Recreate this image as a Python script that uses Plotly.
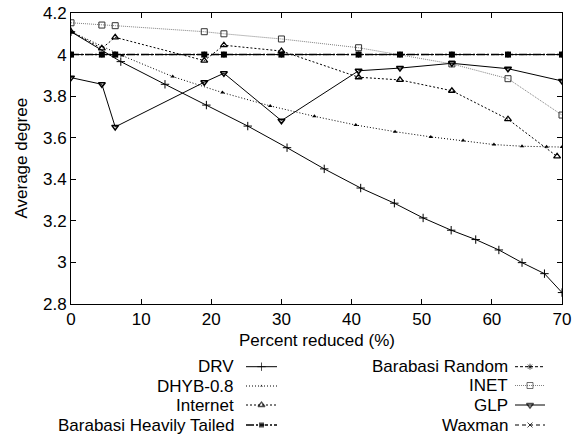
import plotly.graph_objects as go

W, H = 584, 437
FONT = "Liberation Sans, Arial, Helvetica, sans-serif"
FS = 17

# ---------------- data ----------------
drv_x = [0, 7.1, 13.4, 19.3, 25.2, 30.8, 36.1, 41.3, 46.1, 50.2, 54.2, 57.7, 61.0, 64.3, 67.5, 70]
drv_y = [4.11, 3.966, 3.857, 3.757, 3.656, 3.552, 3.45, 3.358, 3.285, 3.214, 3.155, 3.11, 3.06, 2.999, 2.946, 2.855]

dhyb_x = [0, 7.3, 14.5, 21.6, 28.4, 34.7, 40.6, 46.2, 51.3, 55.9, 60.3, 64.3, 67.8, 70]
dhyb_y = [4.11, 3.995, 3.894, 3.817, 3.753, 3.703, 3.661, 3.629, 3.604, 3.586, 3.567, 3.559, 3.557, 3.555]

internet_x = [0, 4.4, 6.3, 19.0, 21.8, 30.0, 41.0, 46.9, 54.3, 62.3, 69.3]
internet_y = [4.11, 4.03, 4.083, 3.971, 4.045, 4.017, 3.891, 3.878, 3.826, 3.689, 3.51]

common_x = [0, 4.4, 6.3, 19.0, 21.8, 30.0, 41.0, 46.9, 54.3, 62.3, 70]
bht_y = [4.0, 4.0, 4.0, 4.0, 4.0, 4.0, 4.0, 4.0, 4.0, 4.0, 4.0]
brand_y = [4.0, 4.0, 4.0, 4.0, 4.0, 4.0, 4.0, 4.0, 4.0, 4.0, 4.0]
waxman_y = [4.0, 4.0, 4.0, 4.0, 4.0, 4.0, 4.0, 4.0, 4.0, 4.0, 4.0]

inet_x = [0, 4.4, 6.3, 19.0, 21.8, 30.0, 41.0, 54.3, 62.3, 70]
inet_y = [4.153, 4.142, 4.139, 4.110, 4.10, 4.075, 4.033, 3.955, 3.884, 3.709]

glp_y = [3.889, 3.857, 3.652, 3.867, 3.910, 3.682, 3.922, 3.935, 3.958, 3.932, 3.873]

x_ticks = [0, 10, 20, 30, 40, 50, 60, 70]
y_ticks = [2.8, 3.0, 3.2, 3.4, 3.6, 3.8, 4.0, 4.2]
y_ticktext = ["2.8", "3", "3.2", "3.4", "3.6", "3.8", "4", "4.2"]

# ---------------- styles ----------------
styles = {
    "DRV": dict(line=dict(color="black", width=1, dash="solid"),
                marker=dict(symbol="cross-thin-open", size=6, line=dict(color="black", width=1))),
    "Barabasi Random": dict(line=dict(color="black", width=1, dash="3px,2px"),
                            marker=dict(symbol="asterisk-open", size=5, line=dict(color="black", width=1))),
    "DHYB-0.8": dict(line=dict(color="black", width=1, dash="1px,2px"),
                     marker=dict(symbol="triangle-up", size=4, color="black")),
    "INET": dict(line=dict(color="#808080", width=1, dash="1px,1px"),
                 marker=dict(symbol="square-open", size=6, color="#333333", line=dict(color="#333333", width=1))),
    "Internet": dict(line=dict(color="black", width=1, dash="2px,2px"),
                     marker=dict(symbol="triangle-up-open", size=6, color="black", line=dict(color="black", width=1.3))),
    "GLP": dict(line=dict(color="black", width=1, dash="solid"),
                marker=dict(symbol="triangle-down-open", size=6, color="black", line=dict(color="black", width=1.5))),
    "Barabasi Heavily Tailed": dict(line=dict(color="black", width=1.5, dash="8px,2px,2px,2px"),
                                    marker=dict(symbol="square", size=6, color="black")),
    "Waxman": dict(line=dict(color="black", width=1, dash="4px,3px"),
                   marker=dict(symbol="x-thin-open", size=5, line=dict(color="black", width=1))),
}

series = [
    ("Barabasi Random", common_x, brand_y),
    ("Waxman", common_x, waxman_y),
    ("DRV", drv_x, drv_y),
    ("DHYB-0.8", dhyb_x, dhyb_y),
    ("INET", inet_x, inet_y),
    ("Internet", internet_x, internet_y),
    ("GLP", common_x, glp_y),
    ("Barabasi Heavily Tailed", common_x, bht_y),
]

fig = go.Figure()
for name, xs, ys in series:
    st = styles[name]
    fig.add_trace(go.Scatter(x=xs, y=ys, mode="lines+markers", name=name,
                             line=st["line"], marker=st["marker"], showlegend=False,
                             xaxis="x", yaxis="y"))

# ---------------- custom legend (text left of sample) ----------------
left_col = ["DRV", "DHYB-0.8", "Internet", "Barabasi Heavily Tailed"]
right_col = ["Barabasi Random", "INET", "GLP", "Waxman"]
rows_left = [366.7, 386, 405, 425]
rows_right = [366.7, 385.5, 405, 425]
cols = [(left_col, rows_left, 236, 246, 277), (right_col, rows_right, 510, 515, 545)]
annotations = []
for names, rows, tx, lx0, lx1 in cols:
    for nm, ry in zip(names, rows):
        st = styles[nm]
        mk = dict(st["marker"])
        base = mk.get("size", 6)
        mk["size"] = [0, base, 0]
        fig.add_trace(go.Scatter(x=[lx0, (lx0 + lx1) / 2, lx1], y=[ry, ry, ry],
                                 mode="lines+markers", line=st["line"], marker=mk,
                                 showlegend=False, hoverinfo="skip",
                                 xaxis="x2", yaxis="y2"))
        annotations.append(dict(x=tx, y=ry, xref="x2", yref="y2", text=nm, showarrow=False,
                                xanchor="right", yanchor="middle",
                                font=dict(family=FONT, size=FS, color="black")))

# axis titles
annotations.append(dict(x=317, y=340, xref="x2", yref="y2", text="Percent reduced (%)",
                        showarrow=False, xanchor="center", yanchor="middle",
                        font=dict(family=FONT, size=FS, color="black")))
annotations.append(dict(x=21, y=158.5, xref="x2", yref="y2", text="Average degree", textangle=-90,
                        showarrow=False, xanchor="center", yanchor="middle",
                        font=dict(family=FONT, size=FS, color="black")))

axis_common = dict(showgrid=False, zeroline=False, showline=True, linecolor="black", linewidth=1,
                   ticks="inside", ticklen=5, tickcolor="black", mirror="ticks", automargin=False,
                   tickfont=dict(family=FONT, size=FS, color="black"))

fig.update_layout(
    width=W, height=H,
    margin=dict(l=0, r=0, t=0, b=0, pad=0, autoexpand=False),
    paper_bgcolor="white", plot_bgcolor="rgba(0,0,0,0)",
    font=dict(family=FONT, size=FS, color="black"),
    xaxis=dict(domain=[71 / W, 562 / W], range=[0, 70], tickvals=x_ticks, anchor="y", **axis_common),
    yaxis=dict(domain=[1 - 304 / H, 1 - 13 / H], range=[2.8, 4.2], tickvals=y_ticks,
               ticktext=y_ticktext, anchor="x", **axis_common),
    xaxis2=dict(domain=[0, 1], range=[0, W], visible=False, anchor="y2", fixedrange=True, automargin=False),
    yaxis2=dict(domain=[0, 1], range=[H, 0], visible=False, anchor="x2", fixedrange=True, automargin=False),
    annotations=annotations,
    showlegend=False,
)

fig.write_html("out.html")
